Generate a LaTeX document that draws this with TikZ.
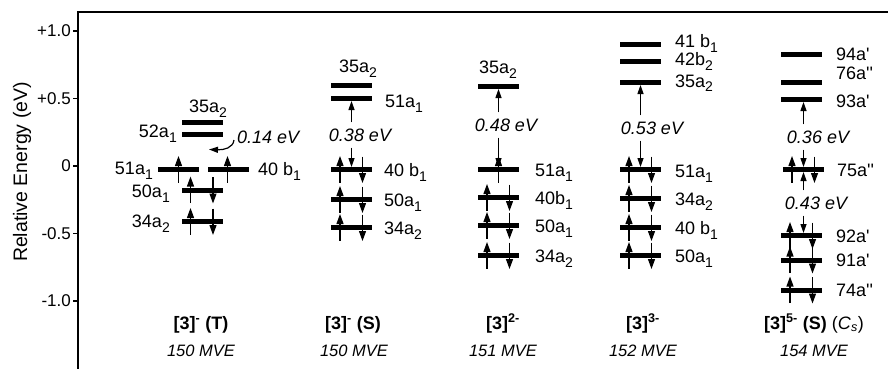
\documentclass[tikz,border=0pt]{standalone}
\usepackage{fontspec}
\setmainfont{Liberation Sans}[Ligatures=TeXOff]
\usetikzlibrary{arrows.meta}
\newcommand\spinup[2]{\draw[spin] ([xshift=#2pt,yshift=-13pt]#1.center) -- ([xshift=#2pt,yshift=13.5pt]#1.center);}
\newcommand\spindn[2]{\draw[spin] ([xshift=#2pt,yshift=13pt]#1.center) -- ([xshift=#2pt,yshift=-13.5pt]#1.center);}
\newcommand\spinpair[1]{\spinup{#1}{-11.5}\spindn{#1}{11}}
\newcommand\sbs[1]{\raisebox{-5pt}{\fontsize{14}{14}\selectfont #1}}
\begin{document}
\begin{tikzpicture}[x=1pt,y=-1pt,
  bar/.style={fill=black, minimum width=41pt, minimum height=5pt, inner sep=0pt, outer sep=0pt},
  spin/.style={line width=1.2pt, -{Triangle[length=10pt,width=7pt]}},
  gap/.style={line width=1.2pt, -{Triangle[length=9pt,width=6pt]}},
  lab/.style={font=\fontsize{18}{20}\selectfont, inner sep=0pt},
  ev/.style={font=\itshape\fontsize{18}{20}\selectfont, inner xsep=0pt, inner ysep=6pt},
  tick/.style={font=\fontsize{17}{20}\selectfont, inner sep=0pt, anchor=east},
  bl/.style={font=\bfseries\fontsize{18}{20}\selectfont, inner sep=0pt, anchor=base},
  mve/.style={font=\itshape\fontsize{16.5}{20}\selectfont, inner sep=0pt, anchor=base},
  frame/.style={line width=1.3pt}]
\useasboundingbox (0,0) rectangle (888,369);

% frame and axis
\draw[frame] (888,12) -- (78,12) -- (78,369);
\foreach \y/\t [count=\i] in {31/+1.0, 98.5/+0.5, 166/0, 233.5/-0.5, 301/-1.0} {
  \draw[frame] (73,\y) -- (78,\y);
  \node[tick] (tk\i) at (71,\y) {\t};
}
\node[rotate=90, font=\fontsize{19.5}{22}\selectfont, inner sep=0pt] (ylab) at (22,172) {Relative Energy (eV)};

% ---------- [3]- (T)
\node[bar] (t35) at (202,122) {};
\node[bar] (t52) at (202,134.5) {};
\node[bar] (t51) at (178.5,169.5) {};
\node[bar] (t40) at (228.5,169.5) {};
\node[bar] (t50) at (202,190) {};
\node[bar] (t34) at (202,221.5) {};
\node[lab,anchor=base] (lt35) at (208,112) {35a\sbs{2}};
\node[lab,anchor=base east] (lt52) at (177,137.5) {52a\sbs{1}};
\node[lab,anchor=base east] (lt51) at (153,174) {51a\sbs{1}};
\node[lab,anchor=base west] (lt40) at (258,175) {40 b\sbs{1}};
\node[lab,anchor=base east] (lt50) at (170,197) {50a\sbs{1}};
\node[lab,anchor=base east] (lt34) at (170,227) {34a\sbs{2}};
\spinup{t51}{0}
\spinup{t40}{-1}
\spinpair{t50}
\spinpair{t34}
\node[ev,anchor=west] (e14) at (237,137) {0.14 eV};
\coordinate (c14) at (209,149.5);
\draw[gap] ([shift={(-3,3)}]e14.west) .. controls (233,148) and (224,150) .. (c14);

% ---------- [3]- (S)
\node[bar] (s35) at (351.5,85.5) {};
\node[bar] (s51) at (351.5,98.5) {};
\node[bar] (s40) at (351.5,169.5) {};
\node[bar] (s50) at (351.5,199.5) {};
\node[bar] (s34) at (351.5,227.5) {};
\node[lab,anchor=base] (ls35) at (358,73) {35a\sbs{2}};
\node[lab,anchor=base west] (ls51) at (385,107) {51a\sbs{1}};
\node[lab,anchor=base west] (ls40) at (384,176) {40 b\sbs{1}};
\node[lab,anchor=base west] (ls50) at (384,206) {50a\sbs{1}};
\node[lab,anchor=base west] (ls34) at (384,234) {34a\sbs{2}};
\spinpair{s40}
\spinpair{s50}
\spinpair{s34}
\node[ev] (e38) at (360,135) {0.38 eV};
\draw[gap] (e38.north -| s51.south) -- (s51.south);
\draw[gap] (e38.south -| s40.north) -- (s40.north);

% ---------- [3]2-
\node[bar] (d35) at (498.5,86.5) {};
\node[bar] (d51) at (498.5,169.5) {};
\node[bar] (d40) at (498.5,197.5) {};
\node[bar] (d50) at (498.5,225.5) {};
\node[bar] (d34) at (498.5,255.5) {};
\node[lab,anchor=base] (ld35) at (498,74) {35a\sbs{2}};
\node[lab,anchor=base west] (ld51) at (535,176) {51a\sbs{1}};
\node[lab,anchor=base west] (ld40) at (535,204) {40b\sbs{1}};
\node[lab,anchor=base west] (ld50) at (535,232) {50a\sbs{1}};
\node[lab,anchor=base west] (ld34) at (535,262) {34a\sbs{2}};
\spinup{d51}{0}
\spinpair{d40}
\spinpair{d50}
\spinpair{d34}
\node[ev] (e48) at (506,125) {0.48 eV};
\draw[gap] (e48.north -| d35.south) -- (d35.south);
\draw[gap] (e48.south -| d51.north) -- (d51.north);

% ---------- [3]3-
\node[bar] (q41) at (640.5,44.5) {};
\node[bar] (q42) at (640.5,61.5) {};
\node[bar] (q35) at (640.5,82.5) {};
\node[bar] (q51) at (640.5,169.5) {};
\node[bar] (q34) at (640.5,198.5) {};
\node[bar] (q40) at (640.5,227.5) {};
\node[bar] (q50) at (640.5,255.5) {};
\node[lab,anchor=base west] (lq41) at (675,48) {41 b\sbs{1}};
\node[lab,anchor=base west] (lq42) at (675,66) {42b\sbs{2}};
\node[lab,anchor=base west] (lq35) at (675,87) {35a\sbs{2}};
\node[lab,anchor=base west] (lq51) at (675,177) {51a\sbs{1}};
\node[lab,anchor=base west] (lq34) at (675,205) {34a\sbs{2}};
\node[lab,anchor=base west] (lq40) at (675,234) {40 b\sbs{1}};
\node[lab,anchor=base west] (lq50) at (675,262) {50a\sbs{1}};
\spinpair{q51}
\spinpair{q34}
\spinpair{q40}
\spinpair{q50}
\node[ev] (e53) at (652,128) {0.53 eV};
\draw[gap] (e53.north -| q35.south) -- (q35.south);
\draw[gap] (e53.south -| q51.north) -- (q51.north);

% ---------- [3]5- (S)
\node[bar] (p94) at (801.5,54.5) {};
\node[bar] (p76) at (801.5,82.5) {};
\node[bar] (p93) at (801.5,99.5) {};
\node[bar] (p75) at (803.5,169.5) {};
\node[bar] (p92) at (801.5,235.5) {};
\node[bar] (p91) at (801.5,260) {};
\node[bar] (p74) at (801.5,290) {};
\node[lab,anchor=base west] (lp94) at (836,60) {94a'};
\node[lab,anchor=base west] (lp76) at (836,79) {76a''};
\node[lab,anchor=base west] (lp93) at (836,107) {93a'};
\node[lab,anchor=base west] (lp75) at (837,176) {75a''};
\node[lab,anchor=base west] (lp92) at (836,242) {92a'};
\node[lab,anchor=base west] (lp91) at (836,266.5) {91a'};
\node[lab,anchor=base west] (lp74) at (836,296.5) {74a''};
\spinpair{p75}
\spinpair{p92}
\spinpair{p91}
\spinpair{p74}
\node[ev] (e36) at (818,137) {0.36 eV};
\draw[gap] (e36.north -| p75.south) -- (p93.south -| p75.south);
\draw[gap] (e36.south -| p75.north) -- (p75.north);
\node[ev] (e43) at (816,203) {0.43 eV};
\draw[gap] (e43.north -| p75.south) -- (p75.south);
\draw[gap] (e43.south -| p75.north) -- (p92.north -| p75.north);

% ---------- bottom labels
\node[bl] (n1) at (201,329) {[3]\textsuperscript{-} (T)};
\node[mve] (m1) at (201,356) {150 MVE};
\node[bl] (n2) at (353,329) {[3]\textsuperscript{-} (S)};
\node[mve] (m2) at (354,356) {150 MVE};
\node[bl] (n3) at (503,329) {[3]\textsuperscript{2-}};
\node[mve] (m3) at (503,356) {151 MVE};
\node[bl] (n4) at (643,329) {[3]\textsuperscript{3-}};
\node[mve] (m4) at (643,356) {152 MVE};
\node[bl] (n5) at (814,329) {[3]\textsuperscript{5-} (S) {\mdseries(\textit{C}\textsubscript{\textit{s}})}};
\node[mve] (m5) at (814,356) {154 MVE};
\end{tikzpicture}
\end{document}
